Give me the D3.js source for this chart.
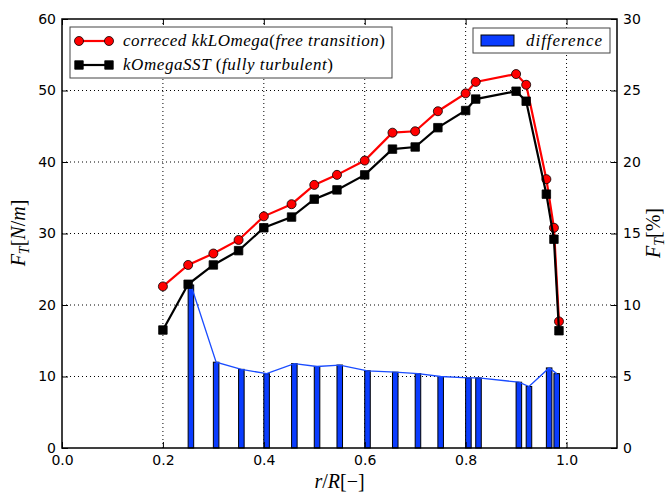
<!DOCTYPE html>
<html>
  <head>
    <title>Thrust force distribution</title>
    <script src="https://d3js.org/d3.v7.min.js"></script>
    <style>
      body { margin: 0; background: #fff; }
      .tick text { font-family: "DejaVu Sans", sans-serif; font-size: 14px; fill: #000; }
    </style>
  </head>
  <body>
    <div id="chart"></div>
    <script>
    // radial stations
    var rR = [0.2, 0.25, 0.3, 0.35, 0.4, 0.455, 0.5, 0.545, 0.6, 0.655, 0.7, 0.745, 0.8, 0.82, 0.9, 0.92, 0.96, 0.975, 0.985];
    // corrected kkLOmega, free transition [N/m]
    var kkl = [22.6, 25.6, 27.2, 29.1, 32.4, 34.1, 36.8, 38.2, 40.2, 44.1, 44.3, 47.1, 49.6, 51.2, 52.3, 50.8, 37.6, 30.8, 17.7];
    // kOmegaSST, fully turbulent [N/m]
    var sst = [16.5, 22.9, 25.6, 27.6, 30.8, 32.3, 34.8, 36.1, 38.2, 41.8, 42.1, 44.8, 47.2, 48.8, 49.9, 48.5, 35.5, 29.2, 16.4];
    // difference [%] (no bar at 0.2)
    var diffR = [0.25, 0.3, 0.35, 0.4, 0.455, 0.5, 0.545, 0.6, 0.655, 0.7, 0.745, 0.8, 0.82, 0.9, 0.92, 0.96, 0.975];
    var diff = [11.4, 6.0, 5.5, 5.2, 5.9, 5.7, 5.8, 5.4, 5.3, 5.2, 5.0, 4.9, 4.9, 4.6, 4.3, 5.6, 5.2];

    var xTicks = [0.0, 0.2, 0.4, 0.6, 0.8, 1.0];
    var yTicks = [0, 10, 20, 30, 40, 50, 60];
    var y2Ticks = [0, 5, 10, 15, 20, 25, 30];

    var W = 669, H = 495;
    var L = 62, R = 617, T = 19, B = 448;
    var barW = 0.011;

    var svg = d3.select('#chart').append('svg')
      .attr('width', W).attr('height', H);

    var x = d3.scaleLinear().domain([0, 1.1]).range([L, R]);
    var y = d3.scaleLinear().domain([0, 60]).range([B, T]);
    var y2 = d3.scaleLinear().domain([0, 30]).range([B, T]);

    // grid
    var grid = svg.append('g');
    grid.selectAll('.gx').data(xTicks.slice(1))
      .enter().append('line')
      .attr('x1', d => x(d)).attr('x2', d => x(d))
      .attr('y1', T).attr('y2', B)
      .attr('stroke', '#000').attr('stroke-width', 1).attr('stroke-dasharray', '1,3');
    grid.selectAll('.gy').data(yTicks.slice(1, -1))
      .enter().append('line')
      .attr('x1', L).attr('x2', R)
      .attr('y1', d => y(d)).attr('y2', d => y(d))
      .attr('stroke', '#000').attr('stroke-width', 1).attr('stroke-dasharray', '1,3');

    // difference bars (right axis)
    svg.append('g').selectAll('rect').data(diff)
      .enter().append('rect')
      .attr('x', (d, i) => x(diffR[i]))
      .attr('width', x(barW) - x(0))
      .attr('y', d => y2(d))
      .attr('height', d => B - y2(d))
      .attr('fill', '#0a3cff')
      .attr('stroke', '#000').attr('stroke-width', 1);

    svg.append('path')
      .datum(diff)
      .attr('fill', 'none')
      .attr('stroke', '#1a4cff').attr('stroke-width', 1.3)
      .attr('d', d3.line().x((d, i) => x(diffR[i] + barW / 2)).y(d => y2(d)));

    // lines
    function series(vals, color, shape) {
      svg.append('path')
        .datum(vals)
        .attr('fill', 'none')
        .attr('stroke', color).attr('stroke-width', 2.2)
        .attr('d', d3.line().x((d, i) => x(rR[i])).y(d => y(d)));
      var sym = d3.symbol().type(shape).size(shape === d3.symbolSquare ? 72 : 64);
      svg.append('g').selectAll('path').data(vals)
        .enter().append('path')
        .attr('transform', (d, i) => 'translate(' + x(rR[i]) + ',' + y(d) + ')')
        .attr('d', sym)
        .attr('fill', color)
        .attr('stroke', '#000').attr('stroke-width', 0.8);
    }
    series(kkl, '#ff0000', d3.symbolCircle);
    series(sst, '#000000', d3.symbolSquare);

    // axes (ticks inward)
    svg.append('g').attr('transform', 'translate(0,' + B + ')')
      .call(d3.axisBottom(x).tickValues(xTicks).tickFormat(d3.format('.1f')).tickSizeInner(-6).tickSizeOuter(0).tickPadding(7));
    svg.append('g').attr('transform', 'translate(0,' + T + ')')
      .call(d3.axisTop(x).tickValues(xTicks).tickFormat('').tickSizeInner(-6).tickSizeOuter(0));
    svg.append('g').attr('transform', 'translate(' + L + ',0)')
      .call(d3.axisLeft(y).tickValues(yTicks).tickFormat(d3.format('d')).tickSizeInner(-6).tickSizeOuter(0).tickPadding(6));
    svg.append('g').attr('transform', 'translate(' + R + ',0)')
      .call(d3.axisRight(y2).tickValues(y2Ticks).tickFormat(d3.format('d')).tickSizeInner(-6).tickSizeOuter(0).tickPadding(6));
    svg.selectAll('.domain').remove();
    svg.selectAll('.tick line').attr('stroke', '#000');

    svg.append('rect')
      .attr('x', L).attr('y', T).attr('width', R - L).attr('height', B - T)
      .attr('fill', 'none').attr('stroke', '#000').attr('stroke-width', 1.5);

    // axis labels
    var xl = svg.append('text').attr('x', (L + R) / 2).attr('y', 488)
      .attr('text-anchor', 'middle').attr('font-size', 20)
      .attr('font-family', '"Liberation Serif", serif');
    xl.append('tspan').attr('font-style', 'italic').text('r');
    xl.append('tspan').text('/');
    xl.append('tspan').attr('font-style', 'italic').text('R');
    xl.append('tspan').text('[\u2212]');

    function fLabel(cx, cy, unit) {
      var t = svg.append('text')
        .attr('transform', 'translate(' + cx + ',' + cy + ') rotate(-90)')
        .attr('text-anchor', 'middle').attr('font-size', 20)
        .attr('font-family', '"Liberation Serif", serif');
      t.append('tspan').attr('font-style', 'italic').text('F');
      t.append('tspan').attr('font-style', 'italic').attr('font-size', 14).attr('dy', 4).text('T');
      t.append('tspan').attr('dy', -4).text('[');
      unit(t);
      t.append('tspan').text(']');
    }
    fLabel(25, 233, function (t) {
      t.append('tspan').attr('font-style', 'italic').text('N');
      t.append('tspan').text('/');
      t.append('tspan').attr('font-style', 'italic').text('m');
    });
    fLabel(660, 233, function (t) { t.append('tspan').text('%'); });

    // legend 1
    var lg = svg.append('g');
    lg.append('rect').attr('x', 70).attr('y', 27).attr('width', 322).attr('height', 51)
      .attr('fill', '#fff').attr('stroke', '#444').attr('stroke-width', 1);
    var entries = [
      {c: '#ff0000', s: d3.symbolCircle, sz: 64, y: 41, w: 262, parts: [['correced kkLOmega', 1], ['(', 0], ['free transition', 1], [')', 0]]},
      {c: '#000000', s: d3.symbolSquare, sz: 72, y: 65, w: 210, parts: [['kOmegaSST ', 1], ['(', 0], ['fully turbulent', 1], [')', 0]]}
    ];
    entries.forEach(function (e) {
      lg.append('line').attr('x1', 79).attr('x2', 109).attr('y1', e.y).attr('y2', e.y)
        .attr('stroke', e.c).attr('stroke-width', 2.2);
      [79, 109].forEach(function (px) {
        lg.append('path').attr('transform', 'translate(' + px + ',' + e.y + ')')
          .attr('d', d3.symbol().type(e.s).size(e.sz)())
          .attr('fill', e.c).attr('stroke', '#000').attr('stroke-width', 0.8);
      });
      var t = lg.append('text').attr('x', 123).attr('y', e.y + 5)
        .attr('font-size', 17).attr('font-family', '"Liberation Serif", serif')
        .attr('textLength', e.w).attr('lengthAdjust', 'spacing');
      e.parts.forEach(function (p) {
        t.append('tspan').attr('font-style', p[1] ? 'italic' : 'normal').text(p[0]);
      });
    });

    // legend 2
    svg.append('rect').attr('x', 473).attr('y', 28).attr('width', 137).attr('height', 25)
      .attr('fill', '#fff').attr('stroke', '#444').attr('stroke-width', 1);
    svg.append('rect').attr('x', 481).attr('y', 35).attr('width', 33).attr('height', 11)
      .attr('fill', '#0a3cff').attr('stroke', '#000').attr('stroke-width', 1);
    svg.append('text').attr('x', 526).attr('y', 46)
      .attr('font-size', 17).attr('font-style', 'italic')
      .attr('font-family', '"Liberation Serif", serif')
      .attr('textLength', 76).attr('lengthAdjust', 'spacing').text('difference');
    </script>
  </body>
</html>
